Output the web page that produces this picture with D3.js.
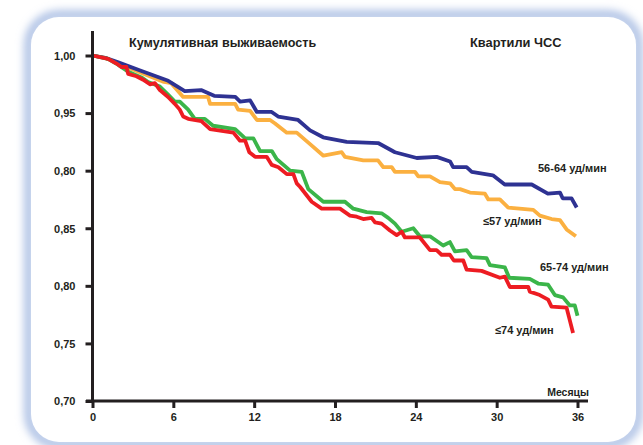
<!DOCTYPE html>
<html>
<head>
<meta charset="utf-8">
<script src="https://cdn.jsdelivr.net/npm/d3@7"></script>
<style>
html,body{margin:0;padding:0;background:#ffffff;}
svg{display:block;}
text{font-family:"Liberation Sans",Arial,sans-serif;font-weight:bold;fill:#231f20;}
</style>
</head>
<body>
<svg id="chart" width="643" height="445"></svg>
<script>
// ---- data ----
const title = "Кумулятивная выживаемость";
const legendTitle = "Квартили ЧСС";
const xAxisTitle = "Месяцы";
const xTicks = [0, 6, 12, 18, 24, 30, 36];
const yTicks = [1.00, 0.95, 0.90, 0.85, 0.80, 0.75, 0.70];
const yTickLabels = ["1,00", "0,95", "0,80", "0,85", "0,80", "0,75", "0,70"];
const seriesNames = ["56-64 уд/мин", "≤57 уд/мин", "65-74 уд/мин", "≤74 уд/мин"];
const seriesColors = ["#2e3192", "#fbb040", "#3ab54a", "#ed1c24"];

const months56_64 = [0,0.94,1.91,3.54,5.62,6.85,8.06,9.03,10.6,10.96,11.7,12.2,13.3,13.78,15.26,16.15,17.12,18.87,21.2,22.45,24.07,25.55,26.54,26.77,27.77,28.15,29.72,30.6,32.6,33.8,34.7,34.9,35.56,35.94];
const surv56_64  = [1.000,0.998,0.994,0.987,0.978,0.969,0.970,0.965,0.964,0.960,0.961,0.951,0.951,0.947,0.944,0.935,0.929,0.925,0.924,0.916,0.911,0.912,0.908,0.903,0.903,0.899,0.896,0.888,0.888,0.880,0.881,0.876,0.876,0.868];

const monthsLe57 = [0,0.94,2.13,5.3,5.84,6.73,8.58,8.73,10.59,10.81,11.7,12.2,13.18,13.55,14.42,15.16,16.15,17.14,18.5,18.74,20.1,21.19,21.59,22.21,22.45,23.94,24.18,25.05,25.79,26.54,26.9,27.28,28.02,29.13,29.38,30.24,30.86,32.72,33.21,34.08,34.7,35.19,35.88];
const survLe57   = [1.000,0.998,0.992,0.977,0.976,0.964,0.964,0.958,0.958,0.953,0.952,0.944,0.944,0.941,0.933,0.933,0.923,0.913,0.916,0.912,0.909,0.909,0.903,0.903,0.899,0.899,0.895,0.895,0.890,0.889,0.884,0.884,0.881,0.880,0.875,0.875,0.868,0.866,0.861,0.858,0.857,0.849,0.843];

const months65_74 = [0,1.16,1.76,2.13,2.65,3.63,4.13,5.00,5.61,6.11,6.48,7.10,7.59,8.34,8.95,10.59,11.33,11.94,12.44,13.31,13.68,14.67,15.53,16.02,17.13,18.74,19.36,20.35,21.46,21.95,22.45,22.95,23.81,24.30,25.05,26.03,26.53,26.90,27.77,28.14,29.25,29.50,30.61,30.93,32.46,33.08,33.82,34.32,34.93,35.43,35.80,36.0];
const surv65_74   = [1.000,0.997,0.993,0.990,0.986,0.981,0.977,0.973,0.966,0.960,0.960,0.953,0.945,0.945,0.939,0.936,0.928,0.928,0.917,0.917,0.910,0.900,0.899,0.884,0.873,0.873,0.867,0.864,0.863,0.859,0.854,0.847,0.850,0.843,0.843,0.835,0.838,0.830,0.831,0.825,0.824,0.818,0.816,0.807,0.806,0.802,0.801,0.792,0.790,0.783,0.783,0.774];

const monthsGe74 = [0,1.16,1.78,2.15,2.52,2.65,3.26,3.76,4.26,4.63,5.00,5.61,6.11,6.48,6.73,7.10,8.08,8.73,10.46,10.95,11.33,11.64,12.07,12.93,13.31,13.80,14.42,14.91,15.16,15.40,16.27,17.01,18.37,19.11,19.61,20.10,20.72,20.97,21.46,22.08,22.58,22.95,23.19,24.30,25.05,25.54,25.91,26.53,26.82,27.52,27.77,28.88,30.24,30.61,30.98,32.34,32.46,33.20,33.82,34.07,35.19,35.43,35.67];
const survGe74   = [1.000,0.997,0.993,0.990,0.990,0.984,0.982,0.979,0.975,0.976,0.970,0.964,0.958,0.953,0.947,0.945,0.943,0.936,0.933,0.926,0.926,0.916,0.912,0.912,0.905,0.903,0.897,0.897,0.889,0.886,0.873,0.867,0.867,0.861,0.860,0.858,0.859,0.855,0.854,0.848,0.844,0.847,0.842,0.842,0.831,0.831,0.827,0.827,0.822,0.822,0.814,0.813,0.807,0.808,0.799,0.799,0.795,0.792,0.788,0.782,0.781,0.770,0.759];

const series = [
  {name: seriesNames[0], color: seriesColors[0], months: months56_64, surv: surv56_64},
  {name: seriesNames[1], color: seriesColors[1], months: monthsLe57, surv: survLe57},
  {name: seriesNames[2], color: seriesColors[2], months: months65_74, surv: surv65_74},
  {name: seriesNames[3], color: seriesColors[3], months: monthsGe74, surv: survGe74}
];

// ---- drawing ----
const svg = d3.select("#chart");
const defs = svg.append("defs");
const f = defs.append("filter").attr("id","glow").attr("x","-10%").attr("y","-10%").attr("width","120%").attr("height","120%");
f.append("feGaussianBlur").attr("stdDeviation",4);
const lf = defs.append("filter").attr("id","soft");
lf.append("feGaussianBlur").attr("stdDeviation",0.4);

// panel with blue glowing border
svg.append("rect").attr("x",29).attr("y",15).attr("width",609).attr("height",429)
  .attr("rx",30).attr("fill","none").attr("stroke","#a9bde3").attr("stroke-width",9)
  .attr("filter","url(#glow)");
svg.append("rect").attr("x",31).attr("y",17).attr("width",605).attr("height",425)
  .attr("rx",28).attr("fill","#ffffff");

const x = d3.scaleLinear().domain([0,36]).range([92.5,577.5]);
const y = d3.scaleLinear().domain([0.70,1.00]).range([401,55.5]);

// lines
const line = d3.line().x(d=>x(d[0])).y(d=>y(d[1]));
const order = [1,0,2,3];
order.forEach(i=>{
  const s = series[i];
  const pts = s.months.map((m,k)=>[m, s.surv[k]]);
  svg.append("path").datum(pts).attr("d",line)
    .attr("fill","none").attr("stroke",s.color).attr("stroke-width",3.8)
    .attr("stroke-linejoin","round").attr("stroke-linecap","butt")
    .attr("filter","url(#soft)");
});

// axes
const yAxis = d3.axisLeft(y).tickValues(yTicks).tickSize(7).tickPadding(10)
  .tickFormat((d,i)=>yTickLabels[i]);
const gy = svg.append("g").attr("transform",`translate(${x(0)},0)`).call(yAxis);
gy.select(".domain").remove();
gy.selectAll(".tick line").attr("stroke","#231f20").attr("stroke-width",3);
gy.selectAll(".tick text").attr("font-size",11).attr("font-family","Liberation Sans, Arial, sans-serif")
  .attr("font-weight","bold").attr("fill","#231f20").attr("dy","0.35em");

const xAxis = d3.axisBottom(x).tickValues(xTicks).tickSize(7).tickPadding(5)
  .tickFormat(d3.format("d"));
const gx = svg.append("g").attr("transform",`translate(0,${y(0.70)})`).call(xAxis);
gx.select(".domain").remove();
gx.selectAll(".tick line").attr("stroke","#231f20").attr("stroke-width",3);
gx.selectAll(".tick text").attr("font-size",11).attr("font-family","Liberation Sans, Arial, sans-serif")
  .attr("font-weight","bold").attr("fill","#231f20");

// axis lines
svg.append("line").attr("x1",x(0)).attr("x2",x(0)).attr("y1",31).attr("y2",y(0.70)+1.5)
  .attr("stroke","#231f20").attr("stroke-width",3);
svg.append("line").attr("x1",86).attr("x2",588).attr("y1",y(0.70)).attr("y2",y(0.70))
  .attr("stroke","#231f20").attr("stroke-width",3);

// titles
svg.append("text").attr("x",129).attr("y",47).attr("font-size",12.6).text(title);
svg.append("text").attr("x",470).attr("y",47).attr("font-size",12.8).text(legendTitle);
svg.append("text").attr("x",589).attr("y",396).attr("text-anchor","end").attr("font-size",10.5).text(xAxisTitle);

// series labels
const labelPos = [[538,172],[483,225],[540,271],[495,334]];
series.forEach((s,i)=>{
  svg.append("text").attr("x",labelPos[i][0]).attr("y",labelPos[i][1]).attr("font-size",11).text(s.name);
});
</script>
</body>
</html>
